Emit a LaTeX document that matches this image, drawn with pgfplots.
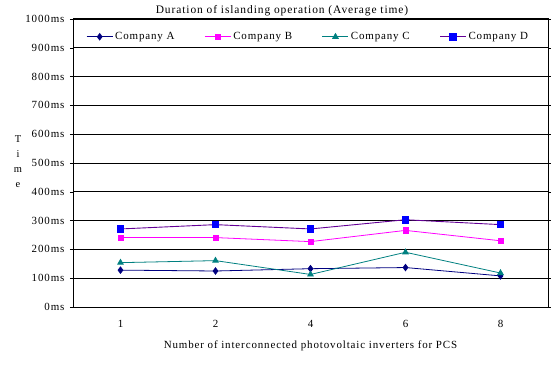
\documentclass[border=0pt]{standalone}
\usepackage{pgfplots}
\pgfplotsset{compat=1.18}
\usepackage{fontspec}
\setmainfont{Liberation Serif}[LetterSpace=8]
\definecolor{cA}{RGB}{0,0,128}
\definecolor{cB}{RGB}{255,0,255}
\definecolor{cC}{RGB}{0,128,128}
\definecolor{cD}{RGB}{0,0,255}
\definecolor{cDl}{RGB}{100,0,150}
\begin{document}
\begin{tikzpicture}
\path[use as bounding box] (-73bp,-60bp) rectangle (478bp,307bp);
\begin{axis}[
  scale only axis,
  width=475bp, height=288bp,
  xmin=0.5, xmax=5.5,
  ymin=0, ymax=1000,
  xtick={1,2,3,4,5},
  xticklabels={1,2,4,6,8},
  major x tick style={draw=none},
  extra x ticks={1.5,2.5,3.5,4.5},
  extra x tick labels={},
  extra x tick style={major tick length=4bp, tick style={black, thin}, tick align=inside, grid=none},
  ytick={0,100,...,1000},
  yticklabel={\pgfmathprintnumber{\tick}ms},
  /pgf/number format/assume math mode=true,
  /pgf/number format/1000 sep={},
  ymajorgrids,
  major grid style={black, line width=0.6pt},
  y tick style={black},
  ytick align=outside,
  major tick length=3bp,
  axis line style={black, line width=1pt},
  tick label style={font=\fontsize{11}{13}\selectfont},
  yticklabel style={xshift=-2bp},
  xticklabel style={yshift=-10bp},
  xlabel={Number of interconnected photovoltaic inverters for PCS},
  xlabel style={font=\fontsize{11}{13}\selectfont, yshift=-6bp},
  ylabel={\begin{tabular}{@{}c@{}}T\\[3bp]i\\[3bp]m\\[3bp]e\end{tabular}},
  ylabel style={rotate=-90, font=\fontsize{10.5}{12}\selectfont, at={(axis description cs:0,0.5)}, anchor=center, xshift=-55bp},
  title={Duration of islanding operation (Average time)},
  title style={font=\fontsize{11.5}{13}\selectfont, at={(0.44,1)}, anchor=south, yshift=-6bp},
  legend columns=4,
  legend style={at={(0.495,0.968)}, anchor=north, draw=none, fill=none,
    font=\fontsize{11}{13}\selectfont, /tikz/every even column/.append style={column sep=28bp}},
  legend image code/.code={\draw[mark repeat=2,mark phase=2] plot coordinates {(0bp,0bp) (13bp,0bp) (26bp,0bp)};},
  legend cell align=left,
]
\addplot[cA, line width=0.8pt, mark=diamond*, mark size=3.2bp, mark options={solid, fill=cA}]
  coordinates {(1,128) (2,125) (3,133) (4,137) (5,108)};
\addlegendentry{Company A}
\addplot[cB, line width=0.8pt, mark=square*, mark size=2.6bp, mark options={solid, fill=cB}]
  coordinates {(1,241) (2,241) (3,227) (4,266) (5,230)};
\addlegendentry{Company B}
\addplot[cC, line width=0.8pt, mark=triangle*, mark size=3.2bp, mark options={solid, fill=cC}]
  coordinates {(1,154) (2,161) (3,113) (4,190) (5,118)};
\addlegendentry{Company C}
\addplot[cDl, line width=0.9pt, mark=square*, mark size=3.3bp, mark options={solid, fill=cD, draw=cD}]
  coordinates {(1,271) (2,286) (3,271) (4,303) (5,286)};
\addlegendentry{Company D}
\end{axis}
\end{tikzpicture}
\end{document}
